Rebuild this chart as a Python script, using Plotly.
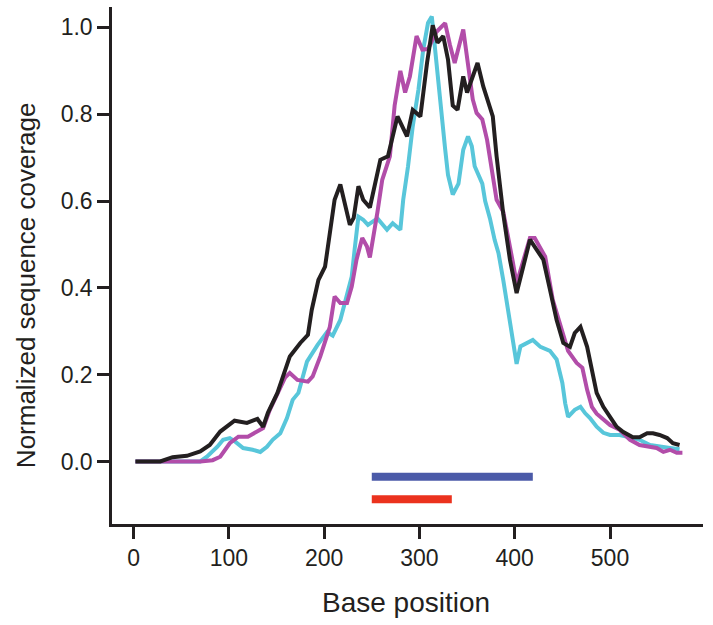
import plotly.graph_objects as go

# ---- data ----
black_x = [2, 28, 41, 56, 70, 80, 91, 106, 119, 130, 136, 141, 151, 157, 164, 175, 183, 187, 194, 201, 206,
           211, 217, 222, 227, 231, 236, 241, 248, 259, 267, 277, 287, 293, 301, 308, 314, 319, 325, 330,
           335, 340, 346, 350, 361, 367, 377, 381, 388, 395, 402, 409, 416, 423, 430, 437, 444, 451, 458,
           463, 469, 476, 482, 486, 493, 500, 507, 514, 524, 531, 539, 545, 552, 560, 566, 573]
black_y = [0, 0, 0.01, 0.013, 0.023, 0.038, 0.069, 0.094, 0.089, 0.098, 0.08, 0.112, 0.158, 0.2, 0.242,
           0.273, 0.292, 0.349, 0.418, 0.449, 0.527, 0.603, 0.638, 0.596, 0.545, 0.561, 0.634, 0.603, 0.585,
           0.695, 0.703, 0.795, 0.749, 0.81, 0.795, 0.918, 1.005, 0.965, 0.98, 0.926, 0.82, 0.81, 0.887,
           0.85, 0.918, 0.864, 0.795, 0.703, 0.57, 0.465, 0.388, 0.449, 0.511, 0.488, 0.465, 0.396, 0.326,
           0.273, 0.264, 0.296, 0.31, 0.264, 0.204, 0.158, 0.126, 0.103, 0.08, 0.068, 0.056, 0.056, 0.065,
           0.065, 0.061, 0.054, 0.042, 0.038]

magenta_x = [2, 70, 83, 91, 101, 110, 120, 130, 136, 143, 151, 159, 164, 172, 183, 188, 196, 206, 211, 217,
             224, 229, 234, 240, 245, 248, 256, 261, 269, 274, 280, 285, 290, 297, 303, 309, 318, 327, 332,
             337, 346, 351, 356, 360, 366, 371, 376, 381, 388, 393, 398, 402, 409, 416, 421, 432, 440, 448,
             456, 465, 471, 476, 481, 486, 493, 500, 510, 521, 531, 540, 549, 556, 563, 570, 576]
magenta_y = [0, 0, 0.003, 0.011, 0.042, 0.057, 0.057, 0.069, 0.077, 0.119, 0.158, 0.193, 0.204, 0.188,
             0.184, 0.196, 0.242, 0.31, 0.38, 0.365, 0.365, 0.403, 0.465, 0.515, 0.495, 0.47, 0.575, 0.649,
             0.703, 0.82, 0.9, 0.85, 0.887, 0.98, 0.949, 0.95, 0.99, 1.01, 0.96, 0.918, 0.995, 0.918, 0.834,
             0.803, 0.788, 0.741, 0.665, 0.603, 0.575, 0.511, 0.46, 0.41, 0.46, 0.515, 0.515, 0.472, 0.372,
             0.31, 0.255, 0.227, 0.216, 0.165, 0.126, 0.11, 0.096, 0.084, 0.073, 0.05, 0.038, 0.034, 0.031,
             0.022, 0.027, 0.02, 0.02]

cyan_x = [2, 70, 77, 88, 94, 101, 107, 115, 125, 133, 140, 146, 154, 161, 167, 173, 182, 193, 203, 209, 217,
          224, 229, 232, 236, 241, 246, 256, 266, 272, 280, 283, 288, 293, 299, 304, 309, 313, 316, 320, 324,
          327, 330, 335, 341, 346, 351, 355, 358, 366, 369, 374, 379, 383, 388, 393, 398, 402, 406, 413, 419,
          427, 437, 444, 450, 453, 456, 463, 469, 474, 479, 486, 493, 500, 510, 521, 531, 542, 552, 563, 573]
cyan_y = [0, 0, 0.011, 0.034, 0.05, 0.054, 0.045, 0.031, 0.027, 0.022, 0.034, 0.05, 0.065, 0.1, 0.142,
          0.158, 0.23, 0.268, 0.298, 0.29, 0.326, 0.38, 0.426, 0.488, 0.564, 0.557, 0.545, 0.56, 0.534,
          0.549, 0.534, 0.603, 0.679, 0.772, 0.857, 0.949, 1.01, 1.025, 0.956, 0.872, 0.772, 0.72, 0.66,
          0.615, 0.64, 0.718, 0.749, 0.726, 0.68, 0.64, 0.6, 0.56, 0.51, 0.48, 0.418, 0.349, 0.288, 0.225,
          0.265, 0.273, 0.28, 0.264, 0.255, 0.235, 0.181, 0.134, 0.103, 0.119, 0.126, 0.111, 0.1, 0.08,
          0.066, 0.061, 0.061, 0.056, 0.05, 0.038, 0.034, 0.031, 0.028]

blue_bar_x = [250, 419]
blue_bar_y = [-0.035, -0.035]
red_bar_x = [250, 334]
red_bar_y = [-0.087, -0.087]

x_ticks = [0, 100, 200, 300, 400, 500]
y_ticks = [0.0, 0.2, 0.4, 0.6, 0.8, 1.0]
y_tick_labels = ["0.0", "0.2", "0.4", "0.6", "0.8", "1.0"]

fig = go.Figure()
fig.add_trace(go.Scatter(x=cyan_x, y=cyan_y, mode="lines",
                         line=dict(color="#58c6da", width=4), showlegend=False))
fig.add_trace(go.Scatter(x=magenta_x, y=magenta_y, mode="lines",
                         line=dict(color="#b24da9", width=4), showlegend=False))
fig.add_trace(go.Scatter(x=black_x, y=black_y, mode="lines",
                         line=dict(color="#231f20", width=4), showlegend=False))
fig.add_trace(go.Scatter(x=blue_bar_x, y=blue_bar_y, mode="lines",
                         line=dict(color="#4b5aa8", width=8), showlegend=False))
fig.add_trace(go.Scatter(x=red_bar_x, y=red_bar_y, mode="lines",
                         line=dict(color="#eb321e", width=8), showlegend=False))

tick_font = dict(family="Liberation Sans, Arial", size=23, color="#231f20")

fig.update_layout(
    width=713, height=625,
    margin=dict(l=112, r=10, t=7, b=101),
    paper_bgcolor="white", plot_bgcolor="white",
    xaxis=dict(range=[-22.6, 597.6], tickvals=x_ticks, ticks="outside", ticklen=12, tickwidth=2.5,
               tickcolor="#231f20", showline=True, linecolor="#231f20", linewidth=2.5,
               showgrid=False, zeroline=False, tickfont=tick_font, automargin=False),
    yaxis=dict(range=[-0.144, 1.047], tickvals=y_ticks, ticktext=y_tick_labels, ticks="outside",
               ticklen=12, tickwidth=2.5, tickcolor="#231f20", showline=True, linecolor="#231f20",
               linewidth=2.5, showgrid=False, zeroline=False, tickfont=tick_font, automargin=False),
    annotations=[
        dict(text="Base position", xref="paper", yref="paper", x=0.497, y=0, yshift=-78,
             xanchor="center", yanchor="middle", showarrow=False,
             font=dict(family="Liberation Sans, Arial", size=28, color="#231f20")),
        dict(text="Normalized sequence coverage", xref="paper", yref="paper", x=0, xshift=-86,
             y=0.462, xanchor="center", yanchor="middle", textangle=-90, showarrow=False,
             font=dict(family="Liberation Sans, Arial", size=26, color="#231f20")),
    ],
)

fig.write_html("out.html", config={"displayModeBar": False},
               post_script="document.body.style.margin='0';document.body.style.padding='0';")
